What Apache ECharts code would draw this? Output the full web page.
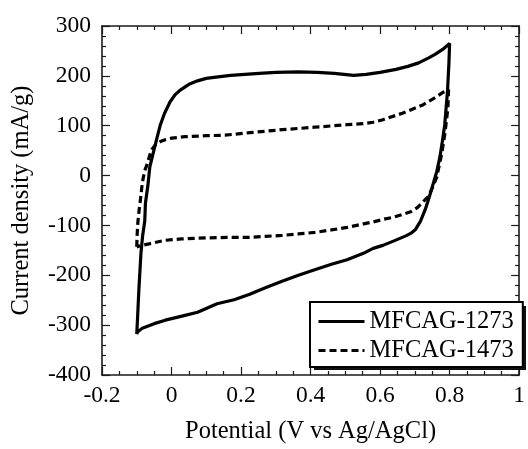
<!DOCTYPE html>
<html>
<head>
<meta charset="utf-8">
<script src="https://cdn.jsdelivr.net/npm/echarts@6/dist/echarts.min.js"></script>
<style>
html,body{margin:0;padding:0;background:#fff;}
#chart{width:528px;height:449px;}
</style>
</head>
<body>
<div id="chart"></div>
<script>
// Series names
var seriesNames = ['MFCAG-1273', 'MFCAG-1473'];

// MFCAG-1273: potential (V) and current density (mA/g), loop traced in order
var x1273 = [-0.100, -0.098, -0.094, -0.088, -0.083, -0.077, -0.075, -0.068, -0.0625, -0.051, -0.042, -0.032, -0.020, -0.004, 0.010, 0.024, 0.050, 0.075, 0.100, 0.122, 0.170, 0.252, 0.300, 0.365, 0.420, 0.468, 0.524, 0.560, 0.600, 0.646, 0.680, 0.711, 0.740, 0.758, 0.780, 0.800,
  0.798, 0.794, 0.786, 0.779, 0.772, 0.763, 0.753, 0.742, 0.730, 0.716, 0.702, 0.688, 0.674, 0.640, 0.608, 0.580, 0.552, 0.505, 0.460, 0.412, 0.365, 0.318, 0.270, 0.225, 0.180, 0.131, 0.075, 0.030, -0.018, -0.050, -0.084, -0.098, -0.100];
var y1273 = [-318, -290, -230, -156, -120, -91, -55, -20, 17, 50, 75, 102, 125, 148, 162, 171, 183, 190, 195, 197, 201, 205, 207, 208, 207, 205, 201, 203, 207, 213, 219, 226, 236, 243, 253, 265,
  225, 170, 102, 68, 37, 8, -16, -42, -68, -92, -108, -116, -121, -131, -140, -146, -156, -169, -178, -189, -200, -212, -225, -238, -249, -257, -274, -282, -290, -297, -306, -314, -318];

// MFCAG-1473
var x1473 = [-0.100, -0.099, -0.097, -0.093, -0.088, -0.084, -0.077, -0.070, -0.063, -0.056, -0.045, -0.030, -0.018, 0.000, 0.038, 0.100, 0.154, 0.225, 0.318, 0.412, 0.505, 0.550, 0.580, 0.608, 0.664, 0.721, 0.760, 0.781, 0.797,
  0.796, 0.795, 0.790, 0.786, 0.777, 0.763, 0.750, 0.739, 0.730, 0.718, 0.706, 0.690, 0.664, 0.636, 0.608, 0.580, 0.552, 0.505, 0.460, 0.412, 0.365, 0.318, 0.270, 0.225, 0.159, 0.100, 0.028, -0.020, -0.065, -0.085, -0.100];
var y1473 = [-143, -120, -95, -68, -40, -14, 10, 23, 40, 53, 63, 69, 72, 75, 78, 80, 81, 86, 92, 97, 102, 104, 107, 112, 125, 141, 157, 167, 172,
  150, 135, 105, 82, 43, -3, -25, -42, -48, -57, -65, -72, -78, -84, -88, -93, -97, -104, -109, -114, -117, -120, -122, -124, -124, -125, -127, -130, -137, -140, -143];

// Axis ticks
var xTickValues = [-0.2, 0, 0.2, 0.4, 0.6, 0.8, 1];
var xTickLabels = ['-0.2', '0', '0.2', '0.4', '0.6', '0.8', '1'];
var yTickValues = [-400, -300, -200, -100, 0, 100, 200, 300];
var yTickLabels = ['-400', '-300', '-200', '-100', '0', '100', '200', '300'];

function zip(xs, ys) {
  var out = [];
  for (var i = 0; i < xs.length; i++) out.push([xs[i], ys[i]]);
  return out;
}
function labelFor(values, labels) {
  return function (v) {
    for (var i = 0; i < values.length; i++) {
      if (Math.abs(values[i] - v) < 1e-6) return labels[i];
    }
    return '';
  };
}

var FONT = '"Liberation Serif", "Times New Roman", Times, serif';
var AX = '#1a1a1a';

function xAxisDef(pos, showLabel) {
  return {
    type: 'value', position: pos, min: -0.2, max: 1, interval: 0.2,
    axisLine: { show: true, onZero: false, lineStyle: { color: AX, width: 1.6 } },
    axisTick: { show: true, inside: true, length: 8, lineStyle: { color: AX, width: 1.2 } },
    minorTick: { show: true, splitNumber: 4, length: 4, lineStyle: { color: AX, width: 1.2 } },
    splitLine: { show: false },
    axisLabel: { show: showLabel, formatter: labelFor(xTickValues, xTickLabels), color: '#000', fontFamily: FONT, fontSize: 23.5, margin: 9, showMaxLabel: true, showMinLabel: true },
    name: showLabel ? 'Potential (V vs Ag/AgCl)' : '',
    nameLocation: 'middle', nameGap: 44,
    nameTextStyle: { color: '#000', fontFamily: FONT, fontSize: 24.5 }
  };
}
function yAxisDef(pos, showLabel) {
  return {
    type: 'value', position: pos, min: -400, max: 300, interval: 100,
    axisLine: { show: true, onZero: false, lineStyle: { color: AX, width: 1.6 } },
    axisTick: { show: true, inside: true, length: 8, lineStyle: { color: AX, width: 1.2 } },
    minorTick: { show: true, splitNumber: 5, length: 4, lineStyle: { color: AX, width: 1.2 } },
    splitLine: { show: false },
    axisLabel: { show: showLabel, formatter: labelFor(yTickValues, yTickLabels), color: '#000', fontFamily: FONT, fontSize: 23.5, margin: 11 },
    name: showLabel ? 'Current density (mA/g)' : '',
    nameLocation: 'middle', nameGap: 68, nameRotate: 90,
    nameTextStyle: { color: '#000', fontFamily: FONT, fontSize: 24.5 }
  };
}

var chart = echarts.init(document.getElementById('chart'), null, { renderer: 'canvas' });
chart.setOption({
  animation: false,
  backgroundColor: '#fff',
  grid: { left: 102, top: 26, width: 428, height: 357, containLabel: false },
  xAxis: [xAxisDef('bottom', true), xAxisDef('top', false)],
  yAxis: [yAxisDef('left', true), yAxisDef('right', false)],
  graphic: [{
    type: 'rect', z: 1, silent: true,
    shape: { x: 314, y: 306, width: 212, height: 64 },
    style: { fill: '#111' }
  }],
  legend: {
    orient: 'vertical', left: 310, top: 302, z: 10,
    padding: [7, 9, 4, 7], itemGap: 4, itemWidth: 46, itemHeight: 14,
    backgroundColor: '#fff', borderColor: '#000', borderWidth: 2, borderRadius: 0,
    itemStyle: { opacity: 0 },
    lineStyle: { width: 3 },
    textStyle: { color: '#000', fontFamily: FONT, fontSize: 24.5, lineHeight: 24, padding: [0, 0, 0, 0] },
    data: seriesNames
  },
  series: [
    {
      name: seriesNames[0], type: 'line', xAxisIndex: 0, yAxisIndex: 0,
      data: zip(x1273, y1273), showSymbol: false, symbol: 'none',
      lineStyle: { color: '#000', width: 3.2, type: 'solid' },
      itemStyle: { color: '#000' }
    },
    {
      name: seriesNames[1], type: 'line', xAxisIndex: 0, yAxisIndex: 0,
      data: zip(x1473, y1473), showSymbol: false, symbol: 'none',
      lineStyle: { color: '#000', width: 3.2, type: [7, 4] },
      itemStyle: { color: '#000' }
    }
  ]
});
</script>
</body>
</html>
